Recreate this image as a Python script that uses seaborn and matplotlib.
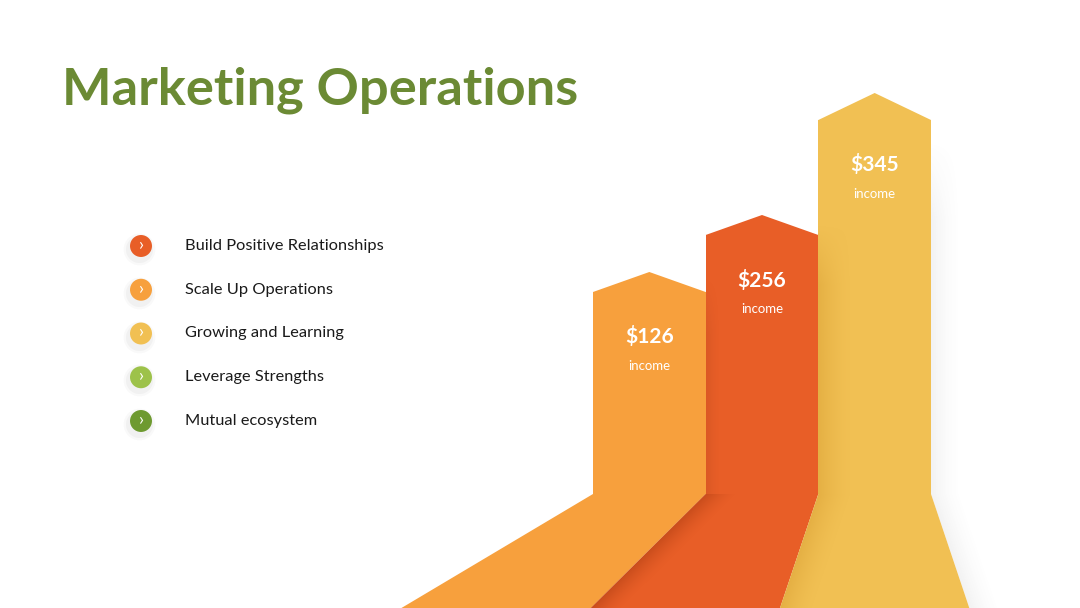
import matplotlib.pyplot as plt
import seaborn as sns
import pandas as pd
import numpy as np
from matplotlib.patches import Polygon
from matplotlib.colors import to_rgb

# data
items = ["Build Positive Relationships", "Scale Up Operations", "Growing and Learning",
         "Leverage Strengths", "Mutual ecosystem"]
item_colors = ["#E85E27", "#F7A03D", "#F1C053", "#9DC24A", "#6E9A30"]
incomes = [126, 256, 345]
income_labels = ["$126", "$256", "$345"]
bar_heights = [202, 259, 374]  # drawn column heights (px), not proportional to income
bar_colors = ["#F7A03D", "#E85E27", "#F1C053"]

sns.set_theme(style="white")
plt.rcParams['font.family'] = ['Lato', 'DejaVu Sans']

W, H = 1080, 608
fig = plt.figure(figsize=(10.8, 6.08), dpi=100)
fig.patch.set_facecolor('white')

# bars axes: x in category units, y in px above the column base
unit = 112.67
base_px = 494
ax = fig.add_axes([0, 0, 1, 1])
df = pd.DataFrame({'label': income_labels, 'h': bar_heights})
sns.barplot(data=df, x='label', y='h', hue='label', palette=bar_colors, width=1.0,
            saturation=1, legend=False, ax=ax, zorder=3, linewidth=0)


def shade(ax, poly, p0, p1, width, color, amax, zorder, top=None, fade=1):
    # soft shadow fading horizontally away from the edge p0-p1, clipped to poly
    poly = np.asarray(poly)
    x0, y0 = poly.min(axis=0)
    x1, y1 = poly.max(axis=0)
    xs = np.linspace(x0, x1, 300)
    ys = np.linspace(y0, y1, 300)
    X, Y = np.meshgrid(xs, ys)
    t = (Y - p0[1]) / (p1[1] - p0[1])
    ex = p0[0] + t * (p1[0] - p0[0])
    d = np.abs(X - ex)
    a = amax * np.clip(1 - d / width, 0, 1) ** 1.6
    if top is not None:
        a = a * np.clip((top - Y) / fade, 0, 1)
    img = np.zeros(X.shape + (4,))
    img[..., :3] = to_rgb(color)
    img[..., 3] = a
    patch = Polygon(poly, closed=True, facecolor='none', edgecolor='none')
    ax.add_patch(patch)
    im = ax.imshow(img, extent=[x0, x1, y0, y1], origin='lower', aspect='auto',
                   interpolation='bilinear', zorder=zorder)
    im.set_clip_path(patch)


roof = [20, 20, 27]
depth = -(H - base_px)
vp, k = 2.0, 1.68
for i, h in enumerate(bar_heights):
    ax.add_patch(Polygon([(i - 0.5, h), (i, h + roof[i]), (i + 0.5, h)], closed=True,
                         facecolor=bar_colors[i], edgecolor='none', zorder=3))
    bl = vp + (i - 0.5 - vp) * k
    br = vp + (i + 0.5 - vp) * k
    ax.add_patch(Polygon([(i - 0.5, 0), (i + 0.5, 0), (br, depth), (bl, depth)], closed=True,
                         facecolor=bar_colors[i], edgecolor='none', zorder=2))
    ax.text(i, h - 45, income_labels[i], ha='center', va='center', color='white',
            fontsize=15, fontweight='bold', zorder=6)
    ax.text(i, h - 74, "income", ha='center', va='center', color='white',
            fontsize=9.5, zorder=6)

# shadows cast by the neighbouring columns
b1 = vp + (0.5 - vp) * k
b2 = vp + (1.5 - vp) * k
b3 = vp + (2.5 - vp) * k
h2, h3 = bar_heights[1], bar_heights[2]
shade(ax, [(0.5, 0), (1.5, 0), (1.5, h2), (0.5, h2)],
      (0.5, 0), (0.5, 1), 0.14, 'black', 0.06, 4, top=h2 - 40, fade=60)
shade(ax, [(0.5, 0), (1.5, 0), (b2, depth), (b1, depth)],
      (0.5, 0), (b1, depth), 0.28, '#8a2a05', 0.32, 4)
shade(ax, [(1.5, 0), (2.5, 0), (2.5, h3), (1.5, h3)],
      (1.5, 0), (1.5, 1), 0.3, '#c98a20', 0.3, 4, top=h2 + 10, fade=60)
shade(ax, [(1.5, 0), (2.5, 0), (b3, depth), (b2, depth)],
      (1.5, 0), (b2, depth), 0.3, '#c98a20', 0.3, 4)
shade(ax, [(2.5, 0), (2.8, 0), (2.8, h3), (2.5, h3)],
      (2.5, 0), (2.5, 1), 0.28, '#707070', 0.09, 1, top=h3 - 20, fade=80)
shade(ax, [(2.5, 0), (2.8, 0), (b3 + 0.3, depth), (b3, depth)],
      (2.5, 0), (b3, depth), 0.28, '#707070', 0.09, 1)

ax.set_xlim(-0.5 - 593 / unit, 2.5 + (W - 931) / unit)
ax.set_ylim(depth, base_px)
ax.set_axis_off()

# bullet list in pixel coordinates
axl = fig.add_axes([0, 0, 1, 1])
axl.patch.set_alpha(0)
ys = 246 + np.arange(len(items)) * 43.75
bl_df = pd.DataFrame({'x': 141, 'y': ys, 'item': items})
for s, a in [(520, 0.035), (380, 0.05)]:
    axl.scatter(bl_df['x'] - 2, bl_df['y'] + 3, s=s, color='#606060', alpha=a,
                linewidths=0, zorder=1)
sns.scatterplot(data=bl_df, x='x', y='y', hue='item', palette=item_colors, s=250,
                linewidth=0, legend=False, ax=axl, zorder=2)
for y, t in zip(ys, items):
    axl.text(141.5, y - 1, "\u203a", ha='center', va='center', color='white', fontsize=13,
             zorder=3)
    axl.text(185, y, t, ha='left', va='center', color='#1a1a1a', fontsize=11.8, zorder=3)
axl.set_xlim(0, W)
axl.set_ylim(H, 0)
axl.set_axis_off()

fig.text(62 / W, 1 - 104 / H, "Marketing Operations", ha='left', va='baseline',
         color='#6B8A34', fontsize=37.7, fontweight='bold')

fig.savefig('out.png', dpi=100, facecolor='white')
